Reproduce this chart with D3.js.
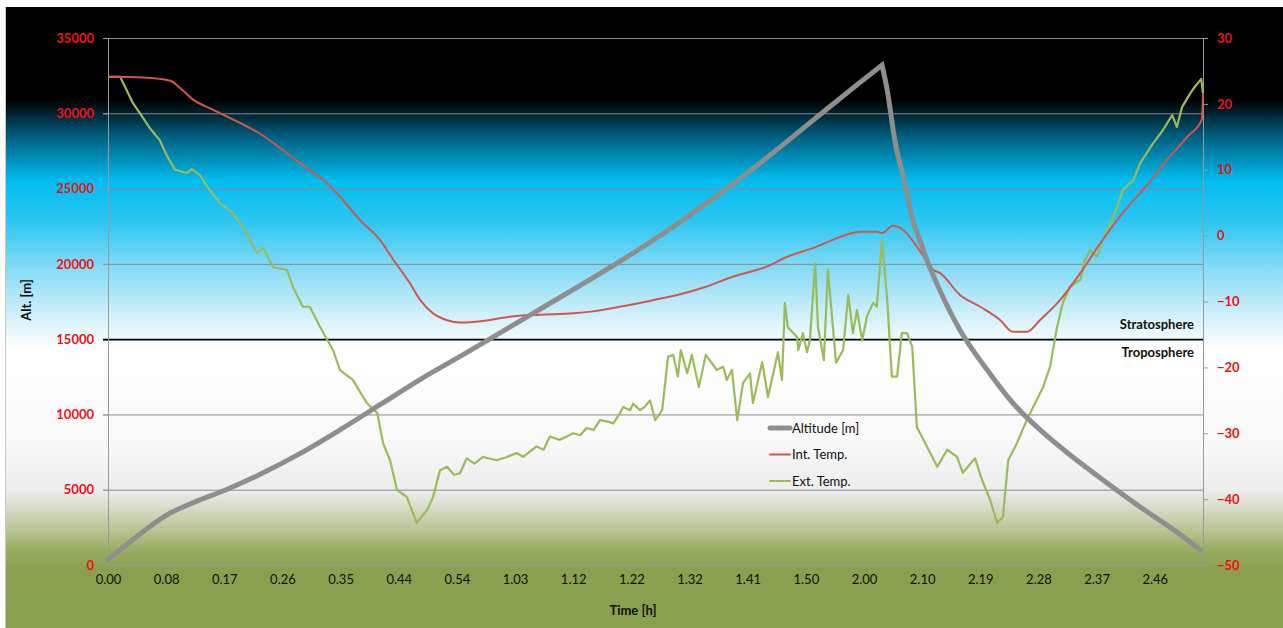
<!DOCTYPE html>
<html>
<head>
<meta charset="utf-8">
<script src="https://cdn.jsdelivr.net/npm/d3@7"></script>
<style>
  body { margin: 0; background: #fff; }
  svg { display: block; font-family: Lato, "Open Sans", sans-serif; }
</style>
</head>
<body>
<div id="vis"></div>
<script>
// x = sample index, a time label every 100 samples (h.mm)
const TIME_LABELS = ["0.00", "0.08", "0.17", "0.26", "0.35", "0.44", "0.54", "1.03", "1.12", "1.22",
  "1.32", "1.41", "1.50", "2.00", "2.10", "2.19", "2.28", "2.37", "2.46"];
const N_SAMPLES = 1883;

const ALT_TICKS = [0, 5000, 10000, 15000, 20000, 25000, 30000, 35000];
const TEMP_TICKS = [-50, -40, -30, -20, -10, 0, 10, 20, 30];

// altitude [m]
const ALTITUDE = [
  [0, 350], [40, 1600], [100, 3300], [150, 4200], [200, 4950], [260, 6000],
  [330, 7400], [400, 9000], [470, 10700], [540, 12400], [610, 13950], [680, 15550], [750, 17150],
  [820, 18750], [890, 20400], [960, 22150], [1030, 24050], [1100, 26050], [1170, 28200], [1240, 30400],
  [1290, 31950], [1331, 33200],
  [1340, 31540], [1353, 28220], [1369, 25570], [1384, 22910], [1396, 21580], [1408, 20260],
  [1431, 18200], [1465, 15610], [1512, 12950], [1556, 10760], [1603, 8970], [1659, 7170],
  [1718, 5450], [1775, 3850], [1838, 2190], [1878, 1000]
];

// internal temperature [°C]
const INT_TEMP = [
  [0, 24.1], [60, 24.0], [107, 23.5], [124, 22.4], [147, 20.6], [181, 19.1], [227, 17.1], [261, 15.5],
  [296, 13.3], [330, 11.0], [376, 8.0], [399, 5.9], [433, 2.4], [468, -0.7], [491, -3.7], [519, -7.2],
  [537, -9.8], [559, -11.8], [582, -12.8], [605, -13.2], [657, -12.8], [691, -12.3], [743, -12.0],
  [800, -11.8], [834, -11.5], [880, -10.8], [937, -9.8], [984, -8.9], [1027, -7.8], [1075, -6.2],
  [1133, -4.7], [1168, -3.2], [1212, -1.9], [1259, -0.2], [1293, 0.6], [1322, 0.6], [1331, 0.4],
  [1350, 1.5], [1367, 0.9], [1396, -2.3], [1419, -5.2], [1431, -5.7], [1465, -9.0], [1500, -10.8],
  [1534, -12.8], [1556, -14.6], [1580, -14.6], [1603, -12.8], [1637, -9.8], [1672, -5.7], [1706, -1.2],
  [1740, 2.9], [1787, 7.7], [1821, 11.5], [1856, 15.0], [1881, 17.6], [1883, 21.6]
];

// external temperature [°C]
const EXT_TEMP = [
  [0, 24.1], [21, 24.1], [43, 20.1], [60, 17.9], [72, 16.3], [89, 14.5], [101, 12.2], [115, 10.0],
  [136, 9.5], [144, 10.1], [158, 9.2], [175, 6.9], [193, 4.9], [215, 3.4], [232, 1.3], [256, -2.6],
  [267, -1.9], [284, -4.8], [308, -5.2], [318, -7.8], [335, -10.8], [347, -10.8], [365, -13.9],
  [377, -15.8], [387, -17.4], [399, -20.4], [421, -21.9], [445, -25.4], [463, -26.9], [473, -31.5],
  [485, -34.1], [497, -38.6], [514, -39.7], [531, -43.6], [549, -41.6], [559, -39.7], [571, -35.6],
  [583, -35.1], [595, -36.3], [605, -36.1], [617, -33.8], [630, -34.6], [645, -33.6], [668, -34.1],
  [686, -33.6], [703, -33.0], [714, -33.6], [737, -32.0], [749, -32.5], [760, -30.5], [777, -31.0],
  [789, -30.5], [800, -30.0], [812, -30.3], [823, -29.2], [835, -29.5], [846, -28.0], [858, -28.2],
  [869, -28.5], [880, -27.0], [886, -26.0], [898, -26.5], [903, -25.5], [915, -26.5], [923, -26.0],
  [932, -25.0], [941, -28.0], [953, -26.5], [963, -18.4],
  [972, -18.1], [980, -21.4], [985, -17.4], [996, -20.9], [1004, -18.1], [1016, -23.0], [1028, -18.1],
  [1047, -20.4], [1058, -19.9], [1064, -21.9], [1073, -20.4], [1082, -28.0], [1092, -22.4], [1104, -20.9],
  [1109, -25.4], [1125, -19.2], [1135, -24.5], [1152, -17.7], [1159, -21.9], [1164, -10.2], [1169, -13.9],
  [1185, -15.4], [1187, -17.4], [1195, -14.8], [1202, -17.7], [1207, -15.9], [1216, -4.2], [1221, -13.9],
  [1231, -18.9], [1238, -5.2], [1245, -12.3], [1252, -19.3], [1264, -17.4], [1273, -9.0], [1281, -14.8],
  [1288, -11.3], [1297, -15.9], [1305, -12.3], [1316, -10.2], [1322, -10.8], [1331, -0.7], [1340, -9.8],
  [1348, -21.4], [1357, -21.4], [1365, -14.8], [1374, -14.8], [1383, -16.9], [1391, -29.1], [1400, -30.6],
  [1414, -33.0], [1426, -35.1], [1443, -32.5], [1460, -33.6], [1470, -36.0], [1491, -33.8], [1503, -37.1],
  [1517, -40.1], [1529, -43.6], [1539, -42.7], [1548, -34.1], [1563, -31.5], [1580, -28.0], [1591, -26.0],
  [1608, -23.0], [1620, -19.9], [1632, -13.9], [1642, -10.2], [1654, -7.8], [1672, -6.7], [1680, -3.7],
  [1689, -2.2], [1701, -3.2], [1711, -0.7], [1735, 4.3], [1745, 6.9], [1763, 8.4], [1775, 11.0],
  [1797, 14.0], [1814, 16.0], [1830, 18.3], [1838, 16.5], [1847, 19.5], [1861, 21.6], [1869, 22.6],
  [1880, 23.8], [1883, 21.6]
];

const TROPOPAUSE = 15000;

const WIDTH = 1283;
const HEIGHT = 628;
const M = { left: 108, right: 80, top: 38, bottom: 63 };

const svg = d3.select("#vis").append("svg")
    .attr("width", WIDTH).attr("height", HEIGHT);

// background sky gradient --------------------------------------------------------------------
const grad = svg.append("defs").append("linearGradient")
    .attr("id", "sky")
    .attr("x1", 0).attr("y1", 0).attr("x2", 0).attr("y2", 1);
[[0, "#000000"], [0.15, "#000000"], [0.205, "#005a7a"], [0.28, "#00bdf0"], [0.345, "#2cc6f2"],
 [0.42, "#84dbf6"], [0.50, "#d4f1fb"], [0.55, "#ffffff"], [0.70, "#f8f8f8"], [0.78, "#ececec"],
 [0.83, "#c4cca6"], [0.87, "#9db066"], [0.905, "#8aa050"], [1, "#88a04c"]]
  .forEach(([o, c]) => grad.append("stop").attr("offset", o).attr("stop-color", c));

svg.append("rect")
    .attr("x", 5).attr("y", 7).attr("width", WIDTH - 5).attr("height", HEIGHT - 7)
    .attr("fill", "url(#sky)");
svg.append("line")
    .attr("x1", 5.5).attr("x2", 5.5).attr("y1", 7).attr("y2", HEIGHT)
    .attr("stroke", "#c8c8c8");

// scales -------------------------------------------------------------------------------------
const x = d3.scaleLinear().domain([0, N_SAMPLES]).range([M.left, WIDTH - M.right]);
const yAlt = d3.scaleLinear().domain([0, 35000]).range([HEIGHT - M.bottom, M.top]);
const yTemp = d3.scaleLinear().domain([-50, 30]).range([HEIGHT - M.bottom, M.top]);

// gridlines
svg.append("g").selectAll("line")
  .data(ALT_TICKS.filter(d => d > 0))
  .join("line")
    .attr("x1", M.left - 5).attr("x2", WIDTH - M.right)
    .attr("y1", d => yAlt(d) + 0.5).attr("y2", d => yAlt(d) + 0.5)
    .attr("stroke", d => d === TROPOPAUSE ? "#000" : "#8a8a8a")
    .attr("stroke-width", d => d === TROPOPAUSE ? 1.6 : 1);

// left axis
const axL = svg.append("g")
    .attr("transform", `translate(${M.left},0)`)
    .call(d3.axisLeft(yAlt).tickValues(ALT_TICKS).tickSize(5).tickPadding(9).tickFormat(d3.format("d")));
axL.select(".domain").attr("stroke", "#999");
axL.selectAll(".tick line").attr("stroke", d => d === TROPOPAUSE ? "#000" : "#999");
axL.selectAll("text").attr("fill", "#ee1111").attr("font-size", 13).attr("font-weight", "bold")
    .attr("font-family", "Lato, sans-serif");

// right axis
const axR = svg.append("g")
    .attr("transform", `translate(${WIDTH - M.right},0)`)
    .call(d3.axisRight(yTemp).tickValues(TEMP_TICKS).tickSize(5).tickPadding(9));
axR.select(".domain").attr("stroke", "#999");
axR.selectAll(".tick line").attr("stroke", "#999");
axR.selectAll("text").attr("fill", "#ee1111").attr("font-size", 13).attr("font-weight", "bold")
    .attr("font-family", "Lato, sans-serif");

// bottom axis
const axB = svg.append("g")
    .attr("transform", `translate(0,${HEIGHT - M.bottom})`)
    .call(d3.axisBottom(x).tickValues(TIME_LABELS.map((d, i) => i * 100)).tickSize(0).tickPadding(10)
      .tickFormat((d, i) => TIME_LABELS[i]));
axB.select(".domain").attr("stroke", "#999");
axB.selectAll("text").attr("fill", "#111").attr("font-size", 13).attr("font-family", "Lato, sans-serif");

// axis titles
svg.append("text")
    .attr("x", 633).attr("y", 615)
    .attr("text-anchor", "middle").attr("font-size", 13).attr("font-weight", "bold").attr("fill", "#111")
    .text("Time [h]");
svg.append("text")
    .attr("transform", "translate(31,300) rotate(-90)")
    .attr("text-anchor", "middle").attr("font-size", 13).attr("font-weight", "bold").attr("fill", "#111")
    .text("Alt.  [m]");

// layer labels
svg.append("text")
    .attr("x", WIDTH - M.right - 9).attr("y", yAlt(TROPOPAUSE) - 10)
    .attr("text-anchor", "end").attr("font-size", 13).attr("font-weight", "bold").attr("fill", "#111")
    .text("Stratosphere");
svg.append("text")
    .attr("x", WIDTH - M.right - 9).attr("y", yAlt(TROPOPAUSE) + 18)
    .attr("text-anchor", "end").attr("font-size", 13).attr("font-weight", "bold").attr("fill", "#111")
    .text("Troposphere");

// series -------------------------------------------------------------------------------------
const lineAlt = d3.line().x(d => x(d[0])).y(d => yAlt(d[1])).curve(d3.curveMonotoneX);
const lineTemp = d3.line().x(d => x(d[0])).y(d => yTemp(d[1]));

svg.append("path").datum(EXT_TEMP)
    .attr("d", lineTemp).attr("fill", "none")
    .attr("stroke", "#9bbb59").attr("stroke-width", 2.2).attr("stroke-linejoin", "round");
svg.append("path").datum(INT_TEMP)
    .attr("d", lineTemp.curve(d3.curveMonotoneX)).attr("fill", "none")
    .attr("stroke", "#d0574e").attr("stroke-width", 2).attr("stroke-linejoin", "round");

// ascent and descent smoothed separately so the burst stays a sharp corner
const peak = d3.maxIndex(ALTITUDE, d => d[1]);
const altPath = lineAlt(ALTITUDE.slice(0, peak + 1)) + lineAlt(ALTITUDE.slice(peak)).replace(/^M/, "L");
svg.append("path")
    .attr("d", altPath).attr("fill", "none")
    .attr("stroke", "#8e8e8e").attr("stroke-width", 5).attr("stroke-linejoin", "miter")
    .attr("stroke-linecap", "round");

// legend -------------------------------------------------------------------------------------
const legend = [
  { name: "Altitude [m]", color: "#8e8e8e", w: 5 },
  { name: "Int. Temp.", color: "#d0574e", w: 2 },
  { name: "Ext. Temp.", color: "#9bbb59", w: 2 }
];
const lg = svg.append("g").attr("transform", "translate(770,428)");
lg.selectAll("line").data(legend).join("line")
    .attr("x1", 0).attr("x2", 20)
    .attr("y1", (d, i) => i * 26.5).attr("y2", (d, i) => i * 26.5)
    .attr("stroke", d => d.color).attr("stroke-width", d => d.w).attr("stroke-linecap", "round");
lg.selectAll("text").data(legend).join("text")
    .attr("x", 22).attr("y", (d, i) => i * 26.5 + 4.5)
    .attr("font-size", 13).attr("fill", "#111")
    .text(d => d.name);
</script>
</body>
</html>
